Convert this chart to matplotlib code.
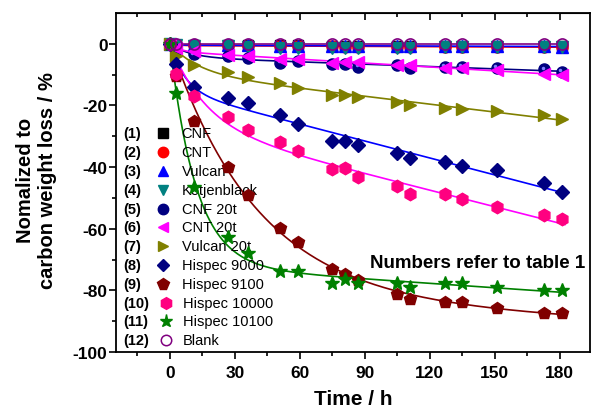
import numpy as np
import matplotlib
matplotlib.use("Agg")
import matplotlib.pyplot as plt
from matplotlib.transforms import ScaledTranslation

plt.rcParams["font.family"] = ["Liberation Sans", "DejaVu Sans"]
plt.rcParams["axes.unicode_minus"] = False

# sampling times (h)
time_h = [0, 3, 11, 27, 36, 51, 59, 75, 81, 87, 105, 111, 127, 135, 151, 173, 181]

# normalized carbon weight loss (%)
cnf = [0, -0.3, -0.4, -0.4, -0.5, -0.5, -0.5, -0.6, -0.6, -0.6, -0.6, -0.6, -0.6, -0.6, -0.6, -0.7, -0.7]
cnt = [0, -0.4, -0.5, -0.6, -0.6, -0.8, -0.8, -0.8, -0.9, -0.9, -0.9, -0.9, -1.0, -1.0, -1.0, -1.0, -1.1]
vulcan = [0, -0.3, -0.4, -0.5, -0.5, -0.6, -0.6, -0.7, -0.7, -0.7, -0.7, -0.7, -0.8, -0.8, -0.8, -0.8, -0.9]
ketjen = [0, -0.5, -0.6, -0.8, -0.9, -1.3, -1.3, -1.4, -1.4, -1.5, -1.4, -1.4, -1.0, -1.0, -1.0, -1.2, -1.0]
cnf20 = [0, -2.0, -3.4, -3.9, -4.5, -6.1, -5.7, -6.6, -6.6, -7.4, -7.0, -7.9, -7.4, -7.4, -7.8, -8.3, -9.1]
cnt20 = [0, -1.5, -2.5, -3.5, -4.0, -4.8, -5.0, -6.2, -6.0, -5.8, -6.8, -7.0, -7.8, -8.0, -8.6, -9.9, -10.2]
vulcan20 = [0, -4.0, -7.0, -9.0, -10.9, -12.6, -14.2, -16.6, -16.6, -17.2, -19.0, -19.9, -20.7, -21.2, -21.7, -23.1, -24.4]
hispec9000 = [0, -6.6, -13.9, -17.7, -19.3, -23.1, -26.0, -31.4, -31.4, -32.8, -35.5, -37.2, -38.2, -39.7, -41.0, -45.1, -48.0]
hispec9100 = [0, -10.5, -25.0, -40.0, -49.0, -59.8, -64.2, -73.2, -74.6, -76.8, -81.1, -82.7, -83.8, -83.8, -85.6, -87.4, -87.4]
hispec10000 = [0, -9.8, -16.9, -23.7, -28.0, -32.0, -34.9, -40.6, -40.4, -43.3, -46.0, -48.9, -48.7, -50.3, -53.0, -55.7, -57.0]
hispec10100 = [0, -16.0, -46.6, -62.7, -67.8, -73.8, -73.8, -77.5, -76.2, -77.5, -77.5, -78.9, -77.5, -77.5, -78.9, -80.0, -80.0]
blank = [0] * len(time_h)

numbers = ["(1)", "(2)", "(3)", "(4)", "(5)", "(6)", "(7)", "(8)", "(9)", "(10)", "(11)", "(12)"]
names = ["CNF", "CNT", "Vulcan", "Ketjenblack", "CNF 20t", "CNT 20t", "Vulcan 20t",
         "Hispec 9000", "Hispec 9100", "Hispec 10000", "Hispec 10100", "Blank"]
series = [cnf, cnt, vulcan, ketjen, cnf20, cnt20, vulcan20,
          hispec9000, hispec9100, hispec10000, hispec10100, blank]

# marker, face colour, fit-line colour (None = no fit line)
styles = [
    ("s", "#000000", None),
    ("o", "#FF0000", "#FF0000"),
    ("^", "#0000FF", "#0000FF"),
    ("v", "#008080", None),
    ("o", "#000080", "#000080"),
    ("<", "#FF00FF", "#FF00FF"),
    (">", "#808000", "#808000"),
    ("D", "#000080", "#0000FF"),
    ("p", "#800000", "#800000"),
    ("h", "#FF0080", "#FF00FF"),
    ("*", "#008000", "#008000"),
    ("o", "none", "#800080"),
]
sizes = [7, 8, 8, 8, 8, 8, 8, 7, 9, 9, 10, 8]


def fit_curve(t, y):
    """least squares fit of y = a*(exp(-t/tau)-1) + b*t, tau by grid search"""
    t = np.asarray(t, float)
    y = np.asarray(y, float)
    best = None
    for tau in np.linspace(1, 400, 800):
        A = np.column_stack([np.exp(-t / tau) - 1, t])
        coef, *_ = np.linalg.lstsq(A, y, rcond=None)
        err = np.sum((A @ coef - y) ** 2)
        if best is None or err < best[0]:
            best = (err, tau, coef)
    _, tau, (a, b) = best
    tt = np.linspace(0, t.max() + 1.5, 300)
    return tt, a * (np.exp(-tt / tau) - 1) + b * tt


fig = plt.figure(figsize=(5.91, 4.10), dpi=100)
ax = fig.add_axes([0.196, 0.139, 0.802, 0.827])

for i, (y, (mk, fc, lc)) in enumerate(zip(series, styles)):
    if lc is not None:
        tt, yy = fit_curve(time_h, y)
        ax.plot(tt, yy, color=lc, lw=1.2, zorder=2 + i * 0.01)

hl = ScaledTranslation(-1.2 / 72, 1.2 / 72, fig.dpi_scale_trans)
for i, (y, (mk, fc, lc), ms) in enumerate(zip(series, styles, sizes)):
    if fc == "none":
        ax.plot(time_h, y, mk, ms=ms, mfc="none", mec="#800080", mew=1.2, zorder=3 + i * 0.01)
    else:
        ax.plot(time_h, y, mk, ms=ms, color=fc, mec=fc, zorder=3 + i * 0.01)
    if names[i] == "CNF 20t":
        # glossy highlight on the sphere markers
        ax.plot(time_h, y, "o", ms=2.5, color="#8080FF", mec="none",
                transform=ax.transData + hl, zorder=3 + i * 0.01 + 0.001)

ax.set_xlim(-25, 194)
ax.set_ylim(-100, 10)
ax.set_xticks([0, 30, 60, 90, 120, 150, 180])
ax.set_xticks(np.arange(-15, 194, 30), minor=True)
ax.set_yticks([-100, -80, -60, -40, -20, 0])
ax.set_yticks([-90, -70, -50, -30, -10], minor=True)
ax.tick_params(which="both", direction="out", width=1.2)
ax.tick_params(which="major", length=5, labelsize=12.5)
ax.tick_params(which="minor", length=3)
ax.tick_params(axis="y", which="major", pad=1)
ax.tick_params(axis="x", which="major", pad=4)
for lab in ax.get_xticklabels() + ax.get_yticklabels():
    lab.set_fontweight("bold")
for sp in ax.spines.values():
    sp.set_linewidth(1.3)

# inward mirror ticks on the top edge
top = ax.secondary_xaxis("top")
top.set_xticks([0, 30, 60, 90, 120, 150, 180])
top.set_xticks(np.arange(-15, 194, 30), minor=True)
top.tick_params(which="both", direction="in", width=1.2, labeltop=False)
top.tick_params(which="major", length=5)
top.tick_params(which="minor", length=3)

ax.set_xlabel("Time / h", fontsize=15, fontweight="bold", labelpad=7)
ax.set_ylabel("Nomalized to\ncarbon weight loss / %", fontsize=14.5,
              fontweight="bold", linespacing=1.15)
ax.yaxis.set_label_coords(-0.125, 0.51)

ax.text(0.99, 0.265, "Numbers refer to table 1", transform=ax.transAxes,
        ha="right", va="center", fontsize=13.5, fontweight="bold")

# numbered legend in the lower left
y0 = 0.645
dy = 0.0555
for i, (num, name, (mk, fc, lc), ms) in enumerate(zip(numbers, names, styles, sizes)):
    yy = y0 - i * dy
    wide = i >= 9
    ax.text(0.015, yy, num, transform=ax.transAxes, ha="left", va="center",
            fontsize=10.5, fontweight="bold")
    mx = 0.105 if wide else 0.099
    if fc == "none":
        ax.plot([mx], [yy], mk, ms=7.5, mfc="none", mec="#800080", mew=1.1,
                transform=ax.transAxes, zorder=5)
    else:
        ax.plot([mx], [yy], mk, ms=ms - 0.5, color=fc,
                transform=ax.transAxes, zorder=5)
    ax.text(0.141 if wide else 0.139, yy, name, transform=ax.transAxes,
            ha="left", va="center", fontsize=10.5)

fig.savefig("out.png", dpi=100)
